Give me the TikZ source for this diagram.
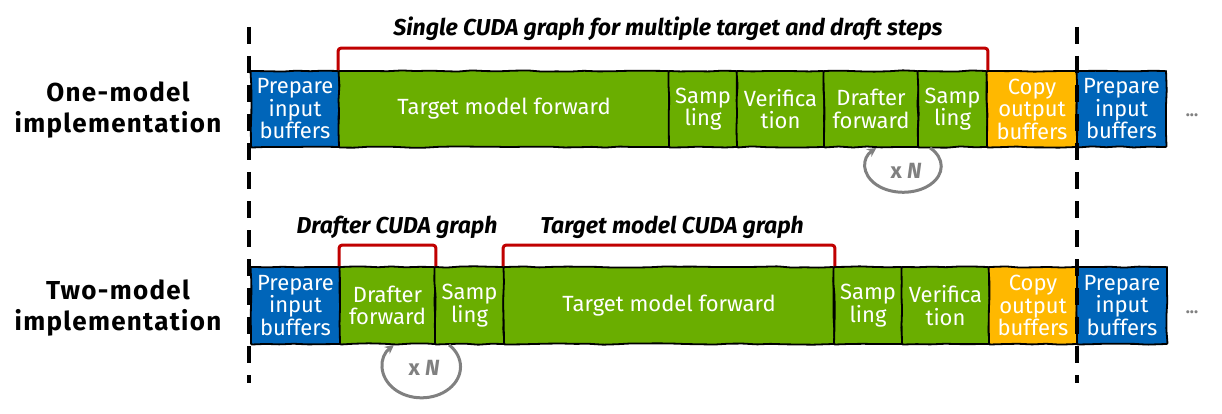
\documentclass[tikz,border=0pt]{standalone}
\usepackage{fontspec}
\setmainfont{Fira Sans}
\usetikzlibrary{arrows.meta,decorations.pathmorphing}
\definecolor{nvblue}{RGB}{0,101,185}
\definecolor{nvgreen}{RGB}{106,174,0}
\definecolor{nvorange}{RGB}{255,184,0}
\definecolor{bracketred}{RGB}{192,0,0}
\definecolor{loopgrey}{RGB}{128,128,128}
\begin{document}
\begin{tikzpicture}[x=1pt,y=-1pt,
  stage/.style={draw=black, line width=1.8pt, text=white, align=center, inner sep=0pt,
    decorate, decoration={random steps, segment length=14pt, amplitude=0.7pt},
    rounded corners=1pt,
    font=\fontsize{22}{22.5}\selectfont},
  bluebox/.style={stage, fill=nvblue},
  greenbox/.style={stage, fill=nvgreen},
  orangebox/.style={stage, fill=nvorange},
  rowone/.style={minimum height=76pt},
  rowtwo/.style={minimum height=77pt},
  bracket/.style={draw=bracketred, line width=3pt, rounded corners=3pt},
  loopline/.style={draw=loopgrey, line width=3pt, -{Stealth[length=9pt,width=9pt]}},
  sep/.style={line width=4pt, dash pattern=on 17pt off 12pt},
  rowlabel/.style={font=\fontsize{26}{31}\selectfont\bfseries\addfontfeature{LetterSpace=5}, align=center},
  graphlabel/.style={font=\fontsize{23}{24}\selectfont\bfseries\itshape, anchor=base},
  dots/.style={text=loopgrey, font=\fontsize{17}{17}\selectfont\bfseries, anchor=base},
  times/.style={text=loopgrey, font=\fontsize{22}{22}\selectfont\bfseries}
]
\fill[white] (0,0) rectangle (1222,414);
\useasboundingbox (0,0) rectangle (1222,414);

% row labels
\node[rowlabel] (r1) at (118,110) {One-model\\implementation};
\node[rowlabel] (r2) at (118,308) {Two-model\\implementation};

% row 1
\node[bluebox,rowone,minimum width=88pt] (p1) at (295,109) {Prepare\\input\\buffers};
\node[greenbox,rowone,minimum width=330pt] (t1) at (504,109) {Target model forward};
\node[greenbox,rowone,minimum width=68pt] (s1) at (703,109) {Samp\\ling};
\node[greenbox,rowone,minimum width=87pt] (v1) at (780.5,109) {Verifica\\tion};
\node[greenbox,rowone,minimum width=94pt] (d1) at (871,109) {Drafter\\forward};
\node[greenbox,rowone,minimum width=69pt] (s2) at (952.5,109) {Samp\\ling};
\node[orangebox,rowone,minimum width=90pt] (c1) at (1032,109) {Copy\\output\\buffers};
\node[bluebox,rowone,minimum width=89pt] (p2) at (1121.5,109) {Prepare\\input\\buffers};
\node[dots] (e1) at (1192,117) {...};

% row 2
\node[bluebox,rowtwo,minimum width=89pt] (p3) at (295.5,305.5) {Prepare\\input\\buffers};
\node[greenbox,rowtwo,minimum width=95pt] (d2) at (387.5,305.5) {Drafter\\forward};
\node[greenbox,rowtwo,minimum width=69pt] (s3) at (469.5,305.5) {Samp\\ling};
\node[greenbox,rowtwo,minimum width=330pt] (t2) at (669,305.5) {Target model forward};
\node[greenbox,rowtwo,minimum width=68pt] (s4) at (868,305.5) {Samp\\ling};
\node[greenbox,rowtwo,minimum width=87pt] (v2) at (945.5,305.5) {Verifica\\tion};
\node[orangebox,rowtwo,minimum width=88pt] (c2) at (1033,305.5) {Copy\\output\\buffers};
\node[bluebox,rowtwo,minimum width=90pt] (p4) at (1122,305.5) {Prepare\\input\\buffers};
\node[dots] (e2) at (1192,313) {...};

% brackets and labels
\draw[bracket] (t1.north west) -- ++(0,-22) -| (s2.north east);
\draw[bracket] (d2.north west) -- ++(0,-21) -| (d2.north east);
\draw[bracket] (t2.north west) -- ++(0,-21) -| (t2.north east);
\node[graphlabel] (g1) at (668,36) {Single CUDA graph for multiple target and draft steps};
\node[graphlabel] (g2) at (397,233) {Drafter CUDA graph};
\node[graphlabel] (g3) at (672,233) {Target model CUDA graph};

% loops
\draw[loopline] ([xshift=13pt]s2.south west) arc[start angle=45, end angle=-225, x radius=38pt, y radius=26pt];
\node[times] (n1) at (906,171) {x \textit{N}};
\draw[loopline] ([xshift=15pt]s3.south west) arc[start angle=45, end angle=-225, x radius=39pt, y radius=31pt];
\node[times] (n2) at (424,368) {x \textit{N}};

% separators
\coordinate (la) at (249,27);
\coordinate (lb) at (249,383);
\coordinate (ra) at (1077,27);
\coordinate (rb) at (1077,383);
\draw[sep] (la) -- (lb);
\draw[sep] (ra) -- (rb);
\end{tikzpicture}
\end{document}
